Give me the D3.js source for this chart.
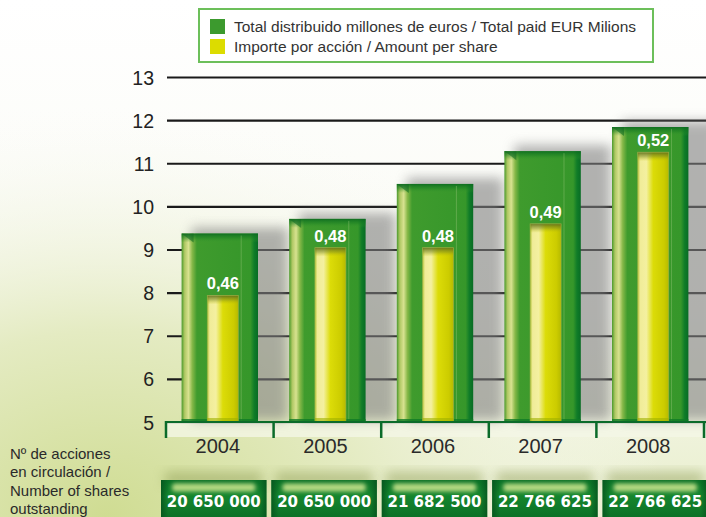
<!DOCTYPE html>
<html><head><meta charset="utf-8">
<script src="https://cdn.jsdelivr.net/npm/d3@7"></script>
<style>
html,body{margin:0;padding:0;background:#fff;}
svg{display:block;}
</style></head>
<body>
<script>
const years = ["2004","2005","2006","2007","2008"];
const totalPaid = [9.37, 9.71, 10.52, 11.28, 11.84];
const perShare = [0.46, 0.48, 0.48, 0.49, 0.52];
const perShareLabels = ["0,46","0,48","0,48","0,49","0,52"];
const sharesOutstanding = ["20 650 000","20 650 000","21 682 500","22 766 625","22 766 625"];
const yTicks = [5,6,7,8,9,10,11,12,13];
const legendLabels = ["Total distribuido millones de euros / Total paid EUR Milions","Importe por acción / Amount per share"];
const sideLabel = ["Nº de acciones","en circulación /","Number of shares","outstanding"];

const W=706,H=517;
const svg=d3.select("body").append("svg").attr("width",W).attr("height",H);
const defs=svg.append("defs");

// background
const bgR=defs.append("radialGradient").attr("id","bgR").attr("cx","0.15").attr("cy","1.0").attr("r","0.8");
bgR.append("stop").attr("offset","0").attr("stop-color","#cfdc92");
bgR.append("stop").attr("offset","0.45").attr("stop-color","#e4ebc2");
bgR.append("stop").attr("offset","1").attr("stop-color","#fcfcfa").attr("stop-opacity",0);
const bgL=defs.append("linearGradient").attr("id","bgL").attr("x1",0).attr("y1",0).attr("x2",0).attr("y2",1);
bgL.append("stop").attr("offset","0").attr("stop-color","#ffffff");
bgL.append("stop").attr("offset","0.6").attr("stop-color","#f9faf3");
bgL.append("stop").attr("offset","1").attr("stop-color","#e8eecb");
svg.append("rect").attr("width",W).attr("height",H).attr("fill","url(#bgL)");
svg.append("rect").attr("width",W).attr("height",H).attr("fill","url(#bgR)");

function hGrad(id,stops){const g=defs.append("linearGradient").attr("id",id).attr("x1",0).attr("y1",0).attr("x2",1).attr("y2",0);
 stops.forEach(s=>g.append("stop").attr("offset",s[0]).attr("stop-color",s[1]).attr("stop-opacity",s[2]==null?1:s[2]));}
function vGrad(id,stops){const g=defs.append("linearGradient").attr("id",id).attr("x1",0).attr("y1",0).attr("x2",0).attr("y2",1);
 stops.forEach(s=>g.append("stop").attr("offset",s[0]).attr("stop-color",s[1]).attr("stop-opacity",s[2]==null?1:s[2]));}
hGrad("gBar",[[0,"#4a9a2c"],[0.04,"#b0c864"],[0.09,"#d8e290"],[0.14,"#86b848"],[0.2,"#3f9b2d"],[0.5,"#3b992c"],[0.9,"#36972a"],[0.95,"#107c28"],[1,"#086c24"]]);
vGrad("gTop",[[0,"#0b6a20",0.9],[0.5,"#1c8024",0.5],[1,"#3e9c2f",0]]);
hGrad("yBar",[[0,"#b4c438"],[0.08,"#f0ec98"],[0.28,"#f4f0a0"],[0.5,"#dcdc08"],[0.85,"#cccc00"],[1,"#b6ba00"]]);
vGrad("yTop",[[0,"#5c6a18",0.9],[0.5,"#7c8a20",0.5],[1,"#c0c000",0]]);
vGrad("boxG",[[0,"#0a7026"],[0.4,"#15862e"],[1,"#0b6e26"]]);
hGrad("boxEdge",[[0,"#05521d",0.8],[0.07,"#05521d",0],[0.93,"#05521d",0],[1,"#05521d",0.8]]);
const blur=defs.append("filter").attr("id","blur").attr("x","-50%").attr("y","-50%").attr("width","200%").attr("height","200%");
blur.append("feGaussianBlur").attr("stdDeviation",6);
const blur2=defs.append("filter").attr("id","blur2").attr("x","-50%").attr("y","-50%").attr("width","200%").attr("height","200%");
blur2.append("feGaussianBlur").attr("stdDeviation",2.2);

// scales
const y=d3.scaleLinear().domain([5,13]).range([422,77]);
const y2=d3.scaleLinear().domain([0.407,0.5515]).range([422,77]);
const x=d3.scaleBand().domain(years).range([166,704]).paddingInner(0.29).paddingOuter(0.145);
const xb=d3.scaleBand().domain(years).range([161,708]).paddingInner(0.045);

// grid via axis
const gy=svg.append("g").attr("transform","translate(167,0)")
 .call(d3.axisLeft(y).tickValues(yTicks).tickSize(-(W-167)).tickPadding(13).tickFormat(d3.format("d")));
gy.select(".domain").remove();
gy.selectAll(".tick line").attr("stroke","#1a1a1a").attr("stroke-width",2.2);
gy.selectAll(".tick text").attr("font-family","Liberation Sans, Arial, sans-serif").attr("font-size",19.5).attr("fill","#222").attr("dy","0.36em");

svg.append("rect").attr("x",166).attr("y",423).attr("width",W-166).attr("height",14).attr("fill","#f4f6e6").attr("opacity",0.8);

// shadows
const bars=svg.append("g");
bars.selectAll("rect.sh").data(years).join("rect").attr("class","sh")
 .attr("x",(d)=>x(d)+10).attr("y",(d,i)=>y(totalPaid[i])-6)
 .attr("width",x.bandwidth()+20).attr("height",(d,i)=>y(5)-y(totalPaid[i])+4)
 .attr("fill","#808080").attr("opacity",0.6).attr("filter","url(#blur)");

// green bars
const gb=bars.selectAll("g.gb").data(years).join("g").attr("class","gb");
gb.append("rect").attr("x",d=>x(d)).attr("y",(d,i)=>y(totalPaid[i]))
 .attr("width",x.bandwidth()).attr("height",(d,i)=>y(5)-y(totalPaid[i])).attr("fill","url(#gBar)");
gb.append("rect").attr("x",d=>x(d)).attr("y",(d,i)=>y(totalPaid[i]))
 .attr("width",x.bandwidth()).attr("height",9).attr("fill","url(#gTop)");
gb.append("path").attr("d",(d,i)=>{const x0=x(d),y0=y(totalPaid[i]);return `M${x0},${y0}L${x0+12},${y0}L${x0+12},${y0+9}Z`;})
 .attr("fill","#0c6a20").attr("opacity",0.55);
gb.append("line").attr("x1",d=>x(d)+x.bandwidth()*0.78).attr("x2",d=>x(d)+x.bandwidth()*0.78)
 .attr("y1",(d,i)=>y(totalPaid[i])+2).attr("y2",y(5)).attr("stroke","#8cc070").attr("stroke-width",0.8).attr("opacity",0.6);
gb.append("rect").attr("x",d=>x(d)).attr("y",y(5)-3).attr("width",x.bandwidth()).attr("height",3).attr("fill","#0f7a26").attr("opacity",0.8);

// yellow bars
const yw=31;
const yx=d=>x(d)+x.bandwidth()/2-yw/2+3;
const yb=bars.selectAll("g.yb").data(years).join("g").attr("class","yb");
yb.append("rect").attr("x",yx).attr("y",(d,i)=>y2(perShare[i])).attr("width",yw)
 .attr("height",(d,i)=>y(5)-y2(perShare[i])).attr("fill","url(#yBar)");
yb.append("rect").attr("x",yx).attr("y",(d,i)=>y2(perShare[i])).attr("width",yw).attr("height",9).attr("fill","url(#yTop)");
yb.append("rect").attr("x",yx).attr("y",(d,i)=>y2(perShare[i])).attr("width",yw)
 .attr("height",(d,i)=>y(5)-y2(perShare[i])).attr("fill","none").attr("stroke","#a0b050").attr("stroke-width",0.8).attr("opacity",0.7);
yb.append("rect").attr("x",yx).attr("y",y(5)-4).attr("width",yw).attr("height",4).attr("fill","#9fb000").attr("opacity",0.6);
yb.append("text").attr("x",d=>yx(d)+yw/2).attr("y",(d,i)=>y2(perShare[i])-6)
 .attr("text-anchor","middle").attr("font-family","Liberation Sans, Arial, sans-serif").attr("font-weight","bold")
 .attr("font-size",16.5).attr("fill","#ffffff").text((d,i)=>perShareLabels[i]);

// x axis
svg.append("line").attr("x1",166).attr("x2",W).attr("y1",422).attr("y2",422).attr("stroke","#0b6b2a").attr("stroke-width",2);
const tickXs=years.map((d,i)=>166+i*x.step()).concat([166+years.length*x.step()]);
svg.selectAll("line.xt").data(tickXs).join("line").attr("class","xt")
 .attr("x1",d=>d).attr("x2",d=>d).attr("y1",421).attr("y2",438).attr("stroke","#0b6b2a").attr("stroke-width",2.5);
svg.selectAll("text.yr").data(years).join("text").attr("class","yr")
 .attr("x",d=>x(d)+x.bandwidth()/2-2).attr("y",453).attr("text-anchor","middle")
 .attr("font-family","Liberation Sans, Arial, sans-serif").attr("font-size",20).attr("fill","#2a2a2a").text(d=>d);

// bottom boxes
const bx=svg.append("g");
bx.selectAll("rect.bs").data(years).join("rect").attr("class","bs")
 .attr("x",d=>xb(d)+4).attr("y",472).attr("width",xb.bandwidth()-8).attr("height",14)
 .attr("fill","#8a9a50").attr("opacity",0.5).attr("filter","url(#blur)");
bx.selectAll("rect.bb").data(years).join("rect").attr("class","bb")
 .attr("x",d=>xb(d)).attr("y",480).attr("width",xb.bandwidth()).attr("height",40).attr("fill","url(#boxG)");
bx.selectAll("rect.bh").data(years).join("rect").attr("class","bh")
 .attr("x",d=>xb(d)+11).attr("y",483.5).attr("width",xb.bandwidth()-22).attr("height",8).attr("rx",3)
 .attr("fill","#c0e088").attr("opacity",0.95).attr("filter","url(#blur2)");
bx.selectAll("rect.be").data(years).join("rect").attr("class","be")
 .attr("x",d=>xb(d)).attr("y",480).attr("width",xb.bandwidth()).attr("height",40).attr("fill","url(#boxEdge)");
bx.selectAll("text.bt").data(years).join("text").attr("class","bt")
 .attr("x",d=>xb(d)+xb.bandwidth()/2).attr("y",507).attr("text-anchor","middle")
 .attr("font-family","DejaVu Sans, sans-serif").attr("font-weight","bold").attr("font-size",15)
 .attr("fill","#ffffff").text((d,i)=>sharesOutstanding[i]);

// side label
svg.append("g").selectAll("text").data(sideLabel).join("text")
 .attr("x",10).attr("y",(d,i)=>459+i*18.4).attr("font-family","Liberation Sans, Arial, sans-serif")
 .attr("font-size",15).attr("fill","#2a2a2a").text(d=>d);

// legend
const lg=svg.append("g");
lg.append("rect").attr("x",199).attr("y",9).attr("width",454).attr("height",53).attr("fill","#ffffff").attr("stroke","#6cbf5a").attr("stroke-width",2);
const lcol=["#3c9a2e","#dcdc00"];
lg.selectAll("rect.sw").data(legendLabels).join("rect").attr("class","sw")
 .attr("x",210).attr("y",(d,i)=>19+i*20).attr("width",15).attr("height",15).attr("fill",(d,i)=>lcol[i]);
lg.selectAll("text").data(legendLabels).join("text").attr("x",234).attr("y",(d,i)=>32+i*20)
 .attr("font-family","Liberation Sans, Arial, sans-serif").attr("font-size",15.5).attr("fill","#333").text(d=>d);
</script>
</body></html>
